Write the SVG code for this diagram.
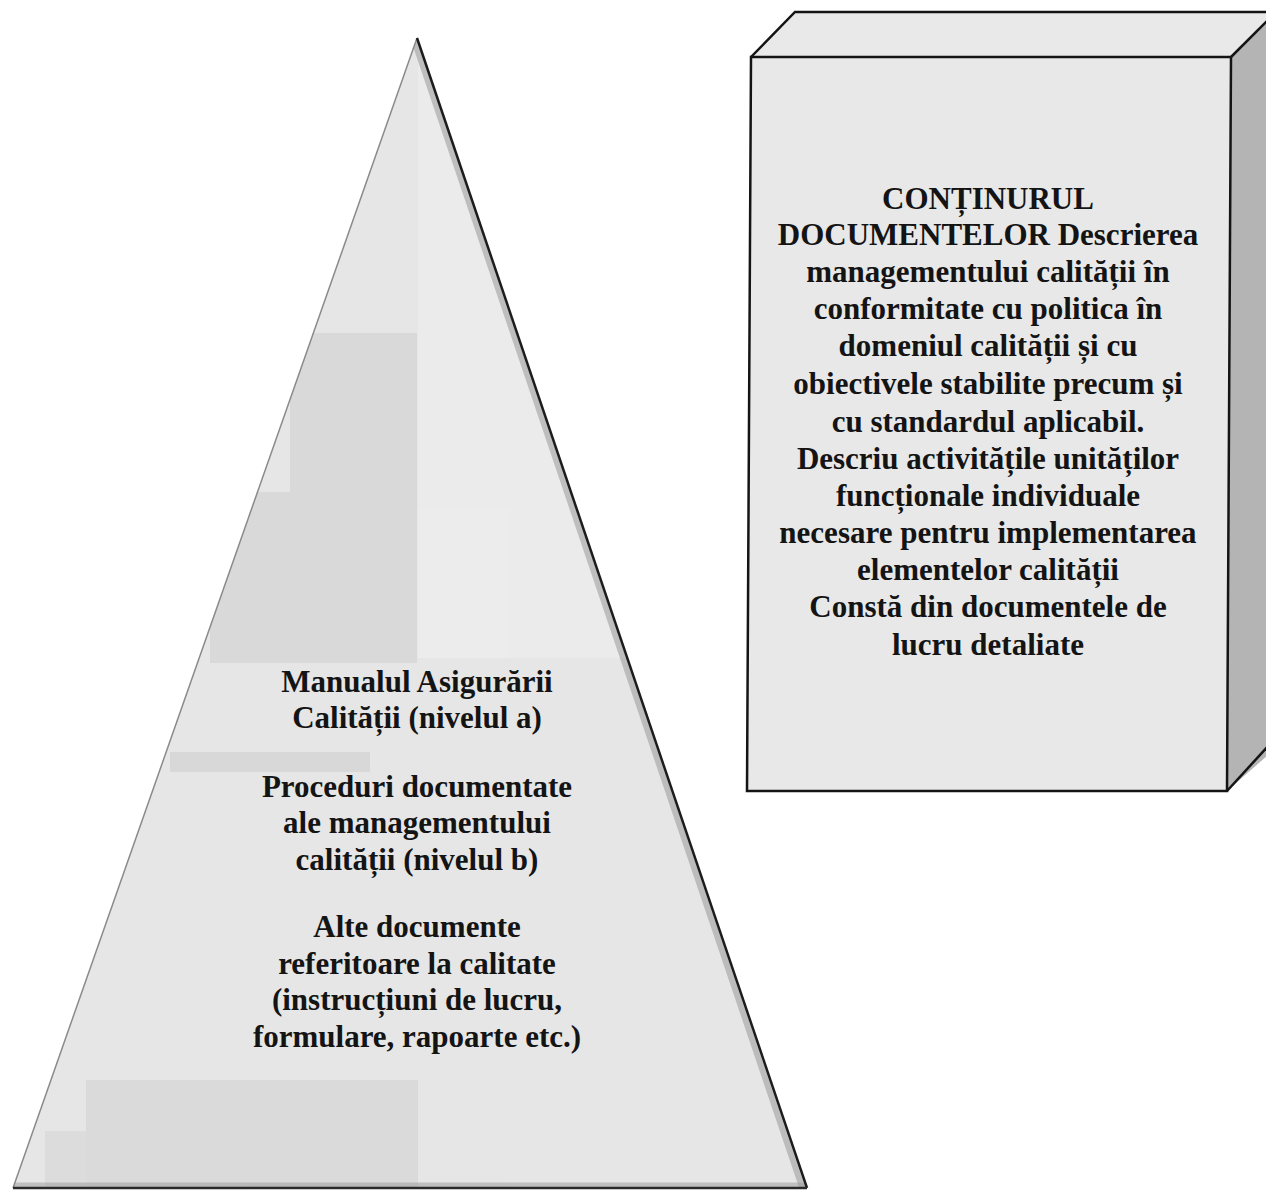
<svg xmlns="http://www.w3.org/2000/svg" width="1266" height="1192" viewBox="0 0 1266 1192">
<style>
.t{font-family:"Liberation Serif","Times New Roman",serif;font-weight:bold;font-size:31px;fill:#141414;text-anchor:middle}
.edge{fill:none;stroke:#141414;stroke-width:2.5;stroke-linejoin:miter}
</style>
<defs>
<clipPath id="pyrClip"><polygon points="417,38 13,1188 807,1188"/></clipPath>
</defs>
<rect width="1266" height="1192" fill="#ffffff"/>
<g id="pyramid">
<polygon points="417,38 13,1188 807,1188" fill="#e6e6e6"/>
<g clip-path="url(#pyrClip)">
<rect x="418" y="38" width="400" height="620" fill="#ececec"/>
<rect x="290" y="333" width="127" height="160" fill="#d9d9d9"/>
<rect x="210" y="492" width="207" height="171" fill="#d9d9d9"/>
<rect x="170" y="752" width="200" height="20" fill="#d8d8d8"/>
<rect x="86" y="1080" width="332" height="108" fill="#dadada"/>
<rect x="45" y="1131" width="41" height="57" fill="#dcdcdc"/>
<line x1="414" y1="40" x2="803" y2="1190" stroke="#9a9a9a" stroke-width="6" opacity="0.55"/>
<line x1="0" y1="1185" x2="830" y2="1185" stroke="#9a9a9a" stroke-width="5" opacity="0.5"/>
</g>
<line x1="417" y1="38" x2="13" y2="1188" stroke="#8a8a8a" stroke-width="1.5"/>
<line x1="417" y1="38" x2="807" y2="1188" stroke="#1c1c1c" stroke-width="2.5"/>
<line x1="13" y1="1188" x2="807" y2="1188" stroke="#2a2a2a" stroke-width="2.5"/>
<text class="t" x="417" y="692">Manualul Asigurării</text>
<text class="t" x="417" y="728">Calității (nivelul a)</text>
<text class="t" x="417" y="797">Proceduri documentate</text>
<text class="t" x="417" y="833">ale managementului</text>
<text class="t" x="417" y="870">calității (nivelul b)</text>
<text class="t" x="417" y="937">Alte documente</text>
<text class="t" x="417" y="974">referitoare la calitate</text>
<text class="t" x="417" y="1010">(instrucțiuni de lucru,</text>
<text class="t" x="417" y="1047">formulare, rapoarte etc.)</text>
</g>
<g id="box">
<polygon points="751,57 795,12 1276,12 1231,57" fill="#e9e9e9"/>
<polygon points="1231,57 1276,12 1276,748 1227,791" fill="#b4b4b4"/>
<polygon points="751,57 1231,57 1227,791 747,791" fill="#e8e8e8"/>
<polyline class="edge" points="751,57 795,12 1276,12"/>
<polyline class="edge" points="1231,57 1276,12"/>
<polyline class="edge" points="1227,791 1270,744"/>
<polygon class="edge" points="751,57 1231,57 1227,791 747,791"/>
<text class="t" x="988" y="209">CONȚINURUL</text>
<text class="t" x="988" y="245">DOCUMENTELOR Descrierea</text>
<text class="t" x="988" y="282">managementului calității în</text>
<text class="t" x="988" y="319">conformitate cu politica în</text>
<text class="t" x="988" y="356">domeniul calității și cu</text>
<text class="t" x="988" y="394">obiectivele stabilite precum și</text>
<text class="t" x="988" y="432">cu standardul aplicabil.</text>
<text class="t" x="988" y="469">Descriu activitățile unităților</text>
<text class="t" x="988" y="506">funcționale individuale</text>
<text class="t" x="988" y="543">necesare pentru implementarea</text>
<text class="t" x="988" y="580">elementelor calității</text>
<text class="t" x="988" y="617">Constă din documentele de</text>
<text class="t" x="988" y="655">lucru detaliate</text>
</g>
<g id="connectors"/>
</svg>
